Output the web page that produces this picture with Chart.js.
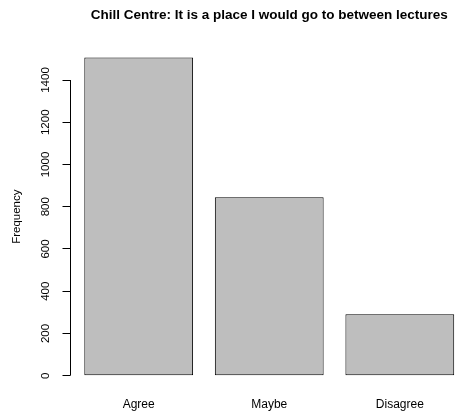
<!DOCTYPE html>
<html>
<head>
<meta charset="utf-8">
<script src="https://cdn.jsdelivr.net/npm/chart.js@4.4.1/dist/chart.umd.min.js"></script>
<style>
  html, body { margin: 0; padding: 0; background: #fff; overflow: hidden; }
  #chart-wrap { position: absolute; left: 0; top: 0; width: 470px; height: 412px; }
</style>
</head>
<body>
<div id="chart-wrap"><canvas id="freq-chart" width="470" height="412"></canvas></div>
<script>
const categories = ['Agree', 'Maybe', 'Disagree'];
const frequencies = [1506, 845, 291];
const yTickValues = [0, 200, 400, 600, 800, 1000, 1200, 1400];

// barplot layout: bars of width 1 separated by 0.2, axis range padded by 4%
const barSpace = 0.2;
const barWidth = 1;
const barCentre = (i) => barSpace + i * (barWidth + barSpace) + barWidth / 2;
const xLeft = barSpace;
const xRight = categories.length * (barWidth + barSpace);
const xPad = (xRight - xLeft) * 0.04;
const yTop = Math.max(...frequencies);

const font = 'Liberation Sans, Arial, Helvetica, sans-serif';

// y axis line only spans the first to last tick, like base graphics
const axisLine = {
  id: 'axisLine',
  afterDraw(chart) {
    const y = chart.scales.y;
    const ctx = chart.ctx;
    const x = Math.round(y.right) + 0.5;
    ctx.save();
    ctx.strokeStyle = '#000';
    ctx.lineWidth = 1;
    ctx.beginPath();
    ctx.moveTo(x, y.getPixelForValue(yTickValues[0]));
    ctx.lineTo(x, y.getPixelForValue(yTickValues[yTickValues.length - 1]));
    ctx.stroke();
    ctx.restore();
  },
};

const ctx = document.getElementById('freq-chart').getContext('2d');
new Chart(ctx, {
  type: 'bar',
  data: {
    datasets: [
      {
        data: frequencies.map((v, i) => ({ x: barCentre(i), y: v })),
        backgroundColor: '#bebebe',
        borderColor: '#000',
        borderWidth: 1,
        borderSkipped: false,
        barPercentage: barWidth / (barWidth + barSpace),
        categoryPercentage: 1,
      },
    ],
  },
  options: {
    responsive: false,
    animation: false,
    devicePixelRatio: 1,
    layout: { padding: { left: 0, right: 1, top: 0, bottom: 0 } },
    plugins: {
      legend: { display: false },
      tooltip: { enabled: false },
      title: {
        display: true,
        fullSize: false,
        text: 'Chill Centre: It is a place I would go to between lectures',
        color: '#000',
        font: { family: font, size: 13.5, weight: 'bold' },
        padding: { top: 7, bottom: 21.7 },
      },
    },
    scales: {
      x: {
        type: 'linear',
        offset: false,
        min: xLeft - xPad,
        max: xRight + xPad,
        grid: { display: false },
        border: { display: false },
        afterBuildTicks: (scale) => {
          scale.ticks = categories.map((c, i) => ({ value: barCentre(i) }));
        },
        afterFit: (scale) => { scale.height = 23.6; },
        ticks: {
          autoSkip: false,
          maxRotation: 0,
          padding: 1,
          color: '#000',
          font: { family: font, size: 12 },
          callback: (value, index) => categories[index],
        },
      },
      y: {
        min: -yTop * 0.04,
        max: yTop * 1.04,
        grid: {
          drawOnChartArea: false,
          drawTicks: true,
          tickLength: 7,
          color: '#000',
          lineWidth: 1,
        },
        border: { display: false },
        afterBuildTicks: (scale) => {
          scale.ticks = yTickValues.map((v) => ({ value: v }));
        },
        afterFit: (scale) => { scale.width = 69.5; },
        ticks: {
          minRotation: 90,
          maxRotation: 90,
          crossAlign: 'center',
          padding: 4,
          color: '#000',
          font: { family: font, size: 11.5 },
          callback: (value) => String(value),
        },
        title: {
          display: true,
          text: 'Frequency',
          color: '#000',
          font: { family: font, size: 11.5 },
          padding: { top: 10.2, bottom: 0 },
        },
      },
    },
  },
  plugins: [axisLine],
});
</script>
</body>
</html>
